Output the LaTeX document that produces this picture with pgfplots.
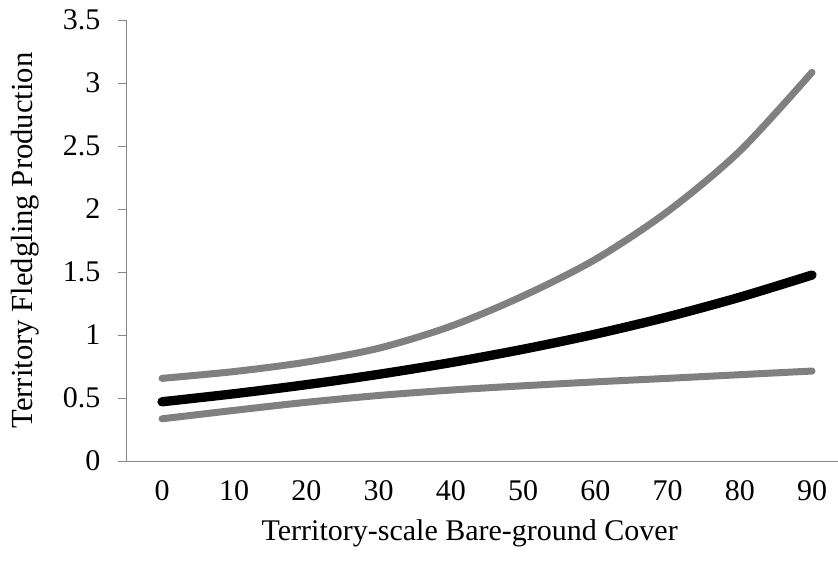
\documentclass[border=0pt]{standalone}
\usepackage{pgfplots}
\pgfplotsset{compat=1.18}
\usepackage{fontspec}
\setmainfont{Liberation Serif}
\definecolor{axgray}{HTML}{868686}
\definecolor{cigray}{HTML}{808080}
\begin{document}
\begin{tikzpicture}
\begin{axis}[
  at={(0,0)}, anchor=south west,
  scale only axis, width=533.25pt, height=330.75pt,
  xmin=-4.85, xmax=93.6, ymin=0, ymax=3.5,
  axis x line*=bottom, axis y line*=left,
  xtick={0,10,...,90}, ytick={0,0.5,...,3.5},
  tick align=outside, major tick length=6.75pt,
  x tick style={draw=none},
  y tick style={color=axgray, line width=0.75pt},
  axis line style={color=axgray, line width=0.75pt},
  /pgf/number format/assume math mode=true,
  xticklabel={\pgfmathprintnumber[assume math mode=true]{\tick}},
  yticklabel={\pgfmathprintnumber[assume math mode=true]{\tick}},
  tick label style={font=\fontsize{22.5}{24}\selectfont},
  xticklabel style={yshift=-4.5pt},
  yticklabel style={xshift=-9.75pt},
  xlabel={Territory-scale Bare-ground Cover},
  ylabel={Territory Fledgling Production},
  xlabel style={font=\fontsize{22.5}{24}\selectfont, at={(axis description cs:0.482,-0.163)}, anchor=center},
  ylabel style={font=\fontsize{23}{25}\selectfont, at={(axis description cs:-0.1435,0.5)}, anchor=center},
]
\addplot[cigray, line width=5.25pt, line cap=round, smooth] coordinates {
(0,0.335) (10,0.402) (20,0.466) (30,0.520) (40,0.563) (50,0.597) (60,0.628) (70,0.656) (80,0.685) (90,0.714)};
\addplot[cigray, line width=5.25pt, line cap=round, smooth] coordinates {
(0,0.656) (10,0.710) (20,0.785) (30,0.895) (40,1.070) (50,1.310) (60,1.600) (70,1.980) (80,2.460) (90,3.085)};
\addplot[black, line width=7pt, line cap=round, smooth] coordinates {
(0,0.470) (10,0.534) (20,0.606) (30,0.688) (40,0.781) (50,0.887) (60,1.007) (70,1.144) (80,1.300) (90,1.476)};
\end{axis}
\pgfresetboundingbox
\path[use as bounding box] (-95.25pt,-78pt) rectangle (533.25pt,345.75pt);
\end{tikzpicture}
\end{document}
